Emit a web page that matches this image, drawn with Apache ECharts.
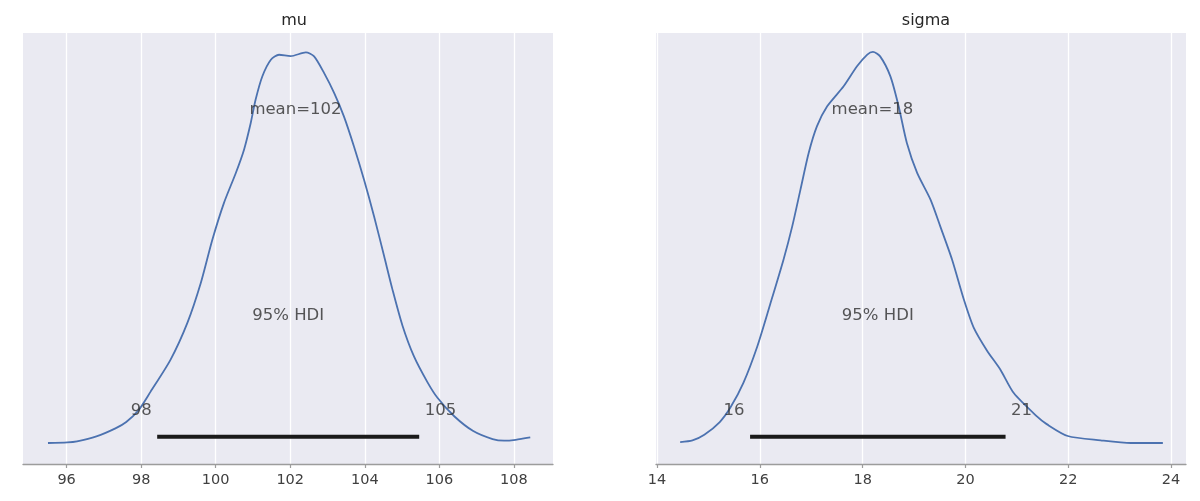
<!DOCTYPE html>
<html lang="en">
<head>
    <meta charset="UTF-8">
    <title>posterior</title>
    <script src="https://cdn.jsdelivr.net/npm/echarts@6/dist/echarts.min.js"></script>
    <style>
        body { margin: 0; background: #fff; }
    </style>
</head>
<body>
<div id="main" style="width:1200px; height:501px"></div>
<script type="text/javascript">
    // kde of mu (x, density)
    var muX = [95.50, 96.02, 96.28, 96.80, 97.31, 97.60, 97.93, 98.25, 98.79, 99.24, 99.60, 99.91, 100.22, 100.54,
        100.76, 100.94, 101.07, 101.25, 101.48, 101.70, 102.01, 102.42, 102.64, 102.91, 103.18, 103.44, 103.71,
        103.98, 104.25, 104.52, 104.74, 105.01, 105.32, 105.68, 105.95, 106.40, 106.91, 107.43, 107.74, 108.05,
        108.44];
    var muY = [0.0008, 0.0011, 0.0017, 0.0045, 0.0090, 0.0126, 0.0192, 0.0295, 0.0476, 0.0682, 0.0906, 0.1149,
        0.1355, 0.1524, 0.1655, 0.1805, 0.1935, 0.2066, 0.2160, 0.2188, 0.2180, 0.2201, 0.2179, 0.2085, 0.1973,
        0.1842, 0.1673, 0.1486, 0.1280, 0.1056, 0.0872, 0.0668, 0.0494, 0.0350, 0.0262, 0.0158, 0.0075, 0.0030,
        0.0021, 0.0026, 0.0039];
    // kde of sigma
    var sigmaX = [14.45, 14.69, 14.92, 15.22, 15.43, 15.68, 15.95, 16.20, 16.46, 16.63, 16.79, 16.95, 17.11,
        17.31, 17.63, 17.89, 18.09, 18.20, 18.34, 18.54, 18.70, 18.86, 19.06, 19.32, 19.51, 19.74, 19.97, 20.16,
        20.42, 20.68, 20.94, 21.39, 21.58, 21.99, 22.63, 23.22, 23.84];
    var sigmaY = [0.0017, 0.0029, 0.0069, 0.0160, 0.0265, 0.0440, 0.0700, 0.1000, 0.1320, 0.1558, 0.1821,
        0.2083, 0.2273, 0.2416, 0.2559, 0.2702, 0.2786, 0.2805, 0.2773, 0.2630, 0.2416, 0.2154, 0.1940, 0.1749,
        0.1558, 0.1320, 0.1034, 0.0835, 0.0670, 0.0534, 0.0367, 0.0200, 0.0145, 0.0060, 0.0029, 0.0010, 0.0010];

    var titles = ['mu', 'sigma'];
    var muTicks = [96, 98, 100, 102, 104, 106, 108];
    var sigmaTicks = [14, 16, 18, 20, 22, 24];
    var muHdi = [98.43, 105.46], muHdiText = ['98', '105'];
    var sigmaHdi = [15.81, 20.78], sigmaHdiText = ['16', '21'];
    var muMean = 102.14, muMeanText = 'mean=102';
    var sigmaMean = 18.19, sigmaMeanText = 'mean=18';

    var FONT = 'DejaVu Sans';
    var myChart = echarts.init(document.getElementById('main'));

    function zip(xs, ys) {
        var out = [];
        for (var i = 0; i < xs.length; i++) out.push([xs[i], ys[i]]);
        return out;
    }

    function xAxisFor(idx, min, max, ticks) {
        return {
            type: 'value', gridIndex: idx, min: min, max: max,
            axisLine: {show: true, onZero: false, lineStyle: {color: '#9c9c9c', width: 1.3}},
            axisTick: {show: true, length: 4, customValues: ticks, lineStyle: {color: '#9c9c9c', width: 1.2}},
            axisLabel: {customValues: ticks, color: '#404040', fontFamily: FONT, fontSize: 14.5, margin: 9},
            splitLine: {show: true, lineStyle: {color: '#ffffff', width: 1.3}}
        };
    }

    // text annotations sit on invisible points, placed in data units
    function labelSeries(idx, hdi, hdiText, mean, meanText, yHdiTxt, yMean, yMid) {
        var lbl = {show: true, color: '#2e2e2e', fontFamily: FONT, fontSize: 16.5};
        return {
            type: 'scatter', xAxisIndex: idx, yAxisIndex: idx, symbolSize: 1,
            itemStyle: {color: 'transparent'}, silent: true, z: 5,
            label: lbl,
            data: [
                {value: [hdi[0], yHdiTxt], label: {position: 'left', distance: 5, formatter: hdiText[0]}},
                {value: [hdi[1], yHdiTxt], label: {position: 'right', distance: 5, formatter: hdiText[1]}},
                {value: [mean, yMean], label: {position: 'inside', formatter: meanText}},
                {value: [(hdi[0] + hdi[1]) / 2, yMid], label: {position: 'inside', formatter: '95% HDI'}}
            ]
        };
    }

    myChart.setOption({
        backgroundColor: '#ffffff',
        animation: false,
        title: [
            {text: titles[0], left: 289, top: 8, textAlign: 'center',
                textStyle: {fontFamily: FONT, fontSize: 16, fontWeight: 'normal', color: '#262626'}},
            {text: titles[1], left: 921, top: 8, textAlign: 'center',
                textStyle: {fontFamily: FONT, fontSize: 16, fontWeight: 'normal', color: '#262626'}}
        ],
        grid: [
            {left: 23, right: 647, top: 33, bottom: 37, show: true, backgroundColor: '#eaeaf2', borderWidth: 0},
            {left: 656, right: 14, top: 33, bottom: 37, show: true, backgroundColor: '#eaeaf2', borderWidth: 0}
        ],
        xAxis: [
            xAxisFor(0, 94.83, 109.05, muTicks),
            xAxisFor(1, 13.98, 24.29, sigmaTicks)
        ],
        yAxis: [
            {type: 'value', gridIndex: 0, min: -0.011, max: 0.231, show: false},
            {type: 'value', gridIndex: 1, min: -0.014, max: 0.294, show: false}
        ],
        series: [
            {type: 'line', xAxisIndex: 0, yAxisIndex: 0, data: zip(muX, muY), smooth: 0.25,
                symbol: 'none', lineStyle: {color: '#4c72b0', width: 1.8}, z: 3},
            {type: 'line', xAxisIndex: 1, yAxisIndex: 1, data: zip(sigmaX, sigmaY), smooth: 0.25,
                symbol: 'none', lineStyle: {color: '#4c72b0', width: 1.8}, z: 3},
            {type: 'line', xAxisIndex: 0, yAxisIndex: 0, data: [[muHdi[0], 0.0043], [muHdi[1], 0.0043]],
                symbol: 'none', lineStyle: {color: '#1a1a1a', width: 4}, z: 4},
            {type: 'line', xAxisIndex: 1, yAxisIndex: 1, data: [[sigmaHdi[0], 0.0055], [sigmaHdi[1], 0.0055]],
                symbol: 'none', lineStyle: {color: '#1a1a1a', width: 4}, z: 4},
            labelSeries(0, muHdi, muHdiText, muMean, muMeanText, 0.0189, 0.1879, 0.0724),
            labelSeries(1, sigmaHdi, sigmaHdiText, sigmaMean, sigmaMeanText, 0.0241, 0.2392, 0.0922)
        ]
    });
</script>
</body>
</html>
